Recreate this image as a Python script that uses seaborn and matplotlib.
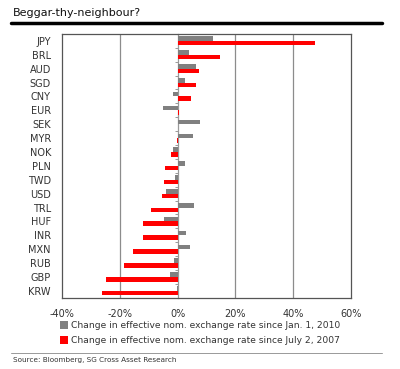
import matplotlib
matplotlib.use("Agg")
import matplotlib.pyplot as plt
import seaborn as sns
import pandas as pd
from matplotlib.ticker import FuncFormatter

currencies = ["JPY", "BRL", "AUD", "SGD", "CNY", "EUR", "SEK", "MYR", "NOK", "PLN",
              "TWD", "USD", "TRL", "HUF", "INR", "MXN", "RUB", "GBP", "KRW"]
since_2010 = [12.3, 4.0, 6.5, 2.5, -1.7, -5.2, 7.7, 5.3, -1.5, 2.5,
              -0.9, -3.9, 5.7, -4.6, 2.9, 4.2, -1.3, -2.5, -0.3]
since_2007 = [47.5, 14.6, 7.4, 6.5, 4.6, 0.5, 0.0, -0.3, -2.4, -4.2,
              -4.8, -5.4, -9.2, -11.8, -12.0, -15.3, -18.6, -24.8, -26.3]
series_names = ["Change in effective nom. exchange rate since Jan. 1, 2010",
                "Change in effective nom. exchange rate since July 2, 2007"]
x_ticks = [-40, -20, 0, 20, 40, 60]

df = pd.DataFrame({
    "currency": currencies * 2,
    "value": since_2010 + since_2007,
    "series": [series_names[0]] * len(currencies) + [series_names[1]] * len(currencies),
})

sns.set_theme(style="white")
plt.rcParams["font.family"] = ["DejaVu Sans"]

fig = plt.figure(figsize=(4.0, 3.69), dpi=100)
ax = fig.add_axes([0.155, 0.193, 0.7225, 0.715])

sns.barplot(data=df, y="currency", x="value", hue="series", orient="h",
            palette=["#808080", "#ff0000"], width=0.66, ax=ax,
            saturation=1, linewidth=0, legend=True)

ax.set_xlim(-40, 60)
ax.set_ylim(len(currencies) - 0.5, -0.5)
ax.set_xticks(x_ticks)
ax.xaxis.set_major_formatter(FuncFormatter(lambda v, p: f"{v:.0f}%"))
ax.tick_params(axis="x", length=0, pad=8, labelsize=7, labelcolor="#333333")
ax.tick_params(axis="y", length=0, pad=8, labelsize=7, labelcolor="#333333")
ax.set_xlabel("")
ax.set_ylabel("")
for v in [-20, 20, 40]:
    ax.axvline(v, color="#8c8c8c", lw=0.9, zorder=0)
for s in ax.spines.values():
    s.set_color("#555555")
    s.set_linewidth(0.9)

# category axis at zero with small boundary ticks
sec = ax.secondary_yaxis(0.4)
sec.set_yticks([k + 0.5 for k in range(-1, len(currencies))])
sec.set_yticklabels([])
sec.tick_params(axis="y", length=2.5, width=0.7, color="#999999", direction="out")
sec.spines["left"].set_color("#999999")
sec.spines["left"].set_linewidth(0.9)

leg = ax.legend(loc="upper left", bbox_to_anchor=(-0.02, -0.075), frameon=False,
                fontsize=6.6, handlelength=0.85, handleheight=0.85, handletextpad=0.35,
                labelspacing=0.65, borderaxespad=0)
for t in leg.get_texts():
    t.set_color("#333333")

fig.text(0.033, 0.965, "Beggar-thy-neighbour?", fontsize=8, color="#111111",
         ha="left", va="center")
fig.add_artist(plt.Line2D([0.028, 0.955], [0.937, 0.937], color="black", lw=2.5))
fig.add_artist(plt.Line2D([0.028, 0.955], [0.044, 0.044], color="#999999", lw=0.7))
fig.text(0.033, 0.024, "Source: Bloomberg, SG Cross Asset Research", fontsize=5.2,
         color="#333333", ha="left", va="center")

fig.savefig("out.png", dpi=100, facecolor="white")
